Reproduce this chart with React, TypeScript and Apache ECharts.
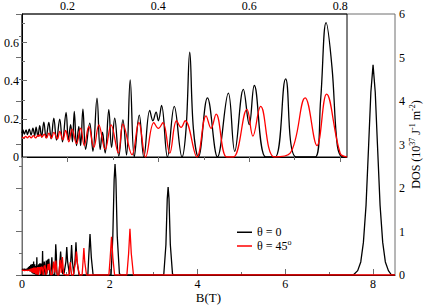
import React, { useEffect, useRef } from "react";
import * as echarts from "echarts";

// ---- data (B in T, DOS in 10^37 J^-1 m^-2) ----
const lowBlack: [number, number][] = [
  [0.0, 0.12], [0.02, 0.135], [0.04, 0.12], [0.06, 0.14], [0.08, 0.12],
];
const lowRed: [number, number][] = [
  [0.0, 0.1], [0.03, 0.11], [0.06, 0.1], [0.08, 0.105],
];

const insetBlack: [number, number][] = [
  [0.100, 0.125], [0.102, 0.142], [0.105, 0.12], [0.109, 0.142], [0.112, 0.118],
  [0.116, 0.146], [0.120, 0.115], [0.124, 0.151], [0.128, 0.112], [0.131, 0.157],
  [0.135, 0.108], [0.139, 0.164], [0.143, 0.105], [0.148, 0.183], [0.153, 0.1],
  [0.159, 0.181], [0.164, 0.095], [0.170, 0.204], [0.176, 0.088], [0.183, 0.199],
  [0.189, 0.08], [0.197, 0.234], [0.202, 0.09], [0.207, 0.17], [0.211, 0.08],
  [0.215, 0.239], [0.220, 0.06], [0.225, 0.16], [0.229, 0.06], [0.234, 0.251],
  [0.240, 0.04], [0.249, 0.178], [0.256, 0.03], [0.265, 0.309], [0.272, 0.04],
  [0.277, 0.13], [0.283, 0.02], [0.291, 0.248], [0.297, 0.05], [0.304, 0.204],
  [0.313, 0.005], [0.322, 0.195], [0.330, 0.01], [0.338, 0.405], [0.347, 0.0],
  [0.358, 0.22], [0.368, 0.0], [0.381, 0.245], [0.388, 0.19], [0.395, 0.235],
  [0.400, 0.19], [0.407, 0.27], [0.420, 0.0], [0.435, 0.265], [0.452, 0.0],
  [0.461, 0.15], [0.469, 0.55], [0.477, 0.15], [0.488, 0.0], [0.508, 0.31],
  [0.530, 0.0], [0.554, 0.335], [0.568, 0.03], [0.587, 0.355], [0.600, 0.17],
  [0.611, 0.375], [0.636, 0.0], [0.657, 0.0], [0.680, 0.41], [0.703, 0.0],
  [0.745, 0.0], [0.757, 0.3], [0.769, 0.705], [0.782, 0.47], [0.792, 0.1],
  [0.800, 0.01], [0.815, 0.0],
];

const insetRed: [number, number][] = [
  [0.100, 0.105], [0.104, 0.1], [0.108, 0.108], [0.112, 0.1], [0.116, 0.11],
  [0.120, 0.1], [0.125, 0.112], [0.130, 0.1], [0.135, 0.115], [0.137, 0.108],
  [0.140, 0.118], [0.144, 0.105], [0.149, 0.12], [0.154, 0.1], [0.159, 0.125],
  [0.165, 0.098], [0.170, 0.129], [0.178, 0.095], [0.183, 0.134], [0.190, 0.09],
  [0.196, 0.139], [0.203, 0.08], [0.210, 0.146], [0.220, 0.07], [0.229, 0.151],
  [0.237, 0.06], [0.247, 0.16], [0.258, 0.05], [0.269, 0.169], [0.283, 0.04],
  [0.296, 0.169], [0.312, 0.02], [0.322, 0.172], [0.342, 0.012], [0.357, 0.181],
  [0.372, 0.0], [0.390, 0.18], [0.400, 0.15], [0.410, 0.18], [0.425, 0.02],
  [0.440, 0.19], [0.450, 0.155], [0.459, 0.19], [0.485, 0.0], [0.505, 0.216],
  [0.516, 0.15], [0.527, 0.225], [0.550, 0.0], [0.565, 0.0], [0.595, 0.25],
  [0.608, 0.11], [0.625, 0.265], [0.655, 0.0], [0.690, 0.02], [0.723, 0.31],
  [0.749, 0.06], [0.770, 0.33], [0.800, 0.02], [0.815, 0.0],
];

const highBlack: [number, number][] = [
  [0.84, 0.0], [0.86, 0.25], [0.88, 0.54], [0.90, 0.25], [0.93, 0.02],
  [0.96, 0.05], [1.00, 0.3], [1.02, 0.64], [1.04, 0.3], [1.08, 0.02],
  [1.11, 0.3], [1.13, 0.69], [1.15, 0.3], [1.18, 0.02], [1.21, 0.35],
  [1.23, 0.75], [1.25, 0.35], [1.30, 0.0], [1.50, 0.0], [1.52, 0.4],
  [1.55, 0.94], [1.58, 0.4], [1.62, 0.0], [2.03, 0.0], [2.07, 0.9],
  [2.10, 2.2], [2.12, 2.55], [2.14, 2.2], [2.17, 0.9], [2.22, 0.03],
  [2.26, 0.0], [3.23, 0.0], [3.28, 0.7], [3.31, 1.75], [3.33, 2.02],
  [3.35, 1.75], [3.38, 0.7], [3.43, 0.02], [3.47, 0.0], [7.55, 0.0],
  [7.65, 0.1], [7.72, 0.3], [7.78, 0.75], [7.84, 1.6], [7.90, 3.0],
  [7.95, 4.2], [8.00, 4.83], [8.05, 4.2], [8.10, 3.0], [8.16, 1.6],
  [8.22, 0.75], [8.28, 0.3], [8.35, 0.1], [8.42, 0.0], [8.5, 0.0],
];

const highRed: [number, number][] = [
  [0.84, 0.0], [0.87, 0.35], [0.895, 0.05], [0.92, 0.41], [0.95, 0.02],
  [1.00, 0.0], [1.07, 0.0], [1.10, 0.3], [1.13, 0.0], [1.17, 0.0],
  [1.21, 0.25], [1.24, 0.54], [1.27, 0.2], [1.31, 0.0], [1.37, 0.0],
  [1.39, 0.3], [1.41, 0.62], [1.43, 0.3], [1.47, 0.0], [1.98, 0.0],
  [2.01, 0.4], [2.04, 0.88], [2.07, 0.4], [2.11, 0.0], [2.39, 0.0],
  [2.43, 0.5], [2.46, 1.06], [2.49, 0.5], [2.54, 0.0], [8.5, 0.0],
];

const mainBlack = [...lowBlack, ...insetBlack, ...highBlack];
const mainRed = [...lowRed, ...insetRed, ...highRed];

const mainXMajor = [0, 2, 4, 6, 8];
const mainXMinor = [1, 3, 5, 7];
const insetXMajor = [0.2, 0.4, 0.6, 0.8];
const insetXMinor = [0.3, 0.5, 0.7];
const insetYMajor = [0, 0.2, 0.4, 0.6];
const insetYMinor = [0.1, 0.3, 0.5, 0.7];

const NAME0 = "θ = 0";
const NAME45 = "θ = 45°";

const FONT = "Liberation Serif";

export default function App() {
  const ref = useRef<HTMLDivElement>(null);
  useEffect(() => {
    if (!ref.current) return;
    const chart = echarts.init(ref.current, undefined, { renderer: "svg" });
    const label = { fontFamily: FONT, fontSize: 12, color: "#000" };
    const gray = "#6e6e6e";
    chart.setOption({
      animation: false,
      backgroundColor: "#fff",
      textStyle: { fontFamily: FONT },
      grid: [
        { left: 22, top: 14, width: 373, height: 261, show: true, borderColor: gray, borderWidth: 1, backgroundColor: "transparent", containLabel: false, outerBoundsMode: "none" },
        { left: 22, top: 14, width: 325, height: 143, show: true, borderColor: "#000", borderWidth: 1, backgroundColor: "transparent", containLabel: false, outerBoundsMode: "none" },
      ],
      xAxis: [
        {
          gridIndex: 0, type: "value", min: 0, max: 8.5, position: "bottom",
          axisLine: { show: true, lineStyle: { color: "#000", width: 1 } },
          axisTick: { show: true, inside: true, length: 6, customValues: mainXMajor, lineStyle: { color: gray } },
          axisLabel: { ...label, margin: 3, customValues: mainXMajor },
          splitLine: { show: false },
          name: "B(T)", nameLocation: "middle", nameGap: 16, nameMoveOverlap: false,
          nameTextStyle: { ...label, fontSize: 13 },
        },
        {
          gridIndex: 0, type: "value", min: 0, max: 8.5, position: "bottom",
          axisLine: { show: false },
          axisTick: { show: true, inside: true, length: 3, customValues: mainXMinor, lineStyle: { color: gray } },
          axisLabel: { show: false },
          splitLine: { show: false },
        },
        {
          gridIndex: 1, type: "value", min: 0.1, max: 0.815, position: "top",
          axisLine: { show: true, lineStyle: { color: "#000", width: 1 } },
          axisTick: { show: true, inside: true, length: 5, customValues: insetXMajor, lineStyle: { color: gray } },
          axisLabel: { ...label, margin: 2, customValues: insetXMajor, formatter: (v: number) => v.toFixed(1) },
          splitLine: { show: false },
        },
        {
          gridIndex: 1, type: "value", min: 0.1, max: 0.815, position: "top",
          axisLine: { show: false },
          axisTick: { show: true, inside: true, length: 3, customValues: insetXMinor, lineStyle: { color: gray } },
          axisLabel: { show: false },
          splitLine: { show: false },
        },
      ],
      yAxis: [
        {
          gridIndex: 0, type: "value", min: 0, max: 6, interval: 1, position: "right",
          axisLine: { show: true, lineStyle: { color: gray, width: 1 } },
          axisTick: { show: true, inside: true, length: 6, lineStyle: { color: gray } },
          minorTick: { show: true, splitNumber: 2, length: 3, lineStyle: { color: gray } },
          axisLabel: { ...label, margin: 4 },
          splitLine: { show: false },
          name: "DOS (10{sup|37} J{sup|-1} m{sup|-2})",
          nameLocation: "middle", nameRotate: 90, nameGap: 13, nameMoveOverlap: false,
          nameTextStyle: {
            ...label, fontSize: 12,
            rich: {
              sup: { fontFamily: FONT, fontSize: 8, color: "#000", padding: [0, 0, 7, 0] },
            },
          },
        },
        {
          gridIndex: 1, type: "value", min: 0, max: 0.75, position: "left",
          axisLine: { show: true, lineStyle: { color: "#000", width: 1 } },
          axisTick: { show: true, inside: true, length: 5, customValues: insetYMajor, lineStyle: { color: gray } },
          axisLabel: { ...label, margin: 3, customValues: insetYMajor, formatter: (v: number) => (v === 0 ? "0" : v.toFixed(1)) },
          splitLine: { show: false },
        },
        {
          gridIndex: 1, type: "value", min: 0, max: 0.75, position: "left",
          axisLine: { show: false },
          axisTick: { show: true, inside: true, length: 3, customValues: insetYMinor, lineStyle: { color: gray } },
          axisLabel: { show: false },
          splitLine: { show: false },
        },
      ],
      legend: {
        orient: "vertical", left: 232, top: 221, itemWidth: 15, itemHeight: 1.5, itemGap: 0,
        icon: "rect",
        data: [NAME0, NAME45],
        textStyle: { ...label, lineHeight: 12.5, rich: { t: { ...label }, sup: { fontFamily: FONT, fontSize: 8, color: "#000", padding: [0, 0, 7, 0] } } },
        formatter: (n: string) => (n === NAME45 ? "{t|θ = 45}{sup|o}" : "{t|" + n + "}"),
      },
      series: [
        { name: NAME0, type: "line", xAxisIndex: 0, yAxisIndex: 0, data: mainBlack, symbol: "none", lineStyle: { color: "#000", width: 1.3 }, itemStyle: { color: "#000" } },
        { name: NAME45, type: "line", xAxisIndex: 0, yAxisIndex: 0, data: mainRed, symbol: "none", lineStyle: { color: "#f00", width: 1.3 }, itemStyle: { color: "#f00" } },
        { name: NAME0, type: "line", xAxisIndex: 2, yAxisIndex: 1, data: insetBlack, symbol: "none", smooth: 0.4, lineStyle: { color: "#000", width: 1.3 }, itemStyle: { color: "#000" } },
        { name: NAME45, type: "line", xAxisIndex: 2, yAxisIndex: 1, data: insetRed, symbol: "none", smooth: 0.4, lineStyle: { color: "#f00", width: 1.3 }, itemStyle: { color: "#f00" } },
      ],
    });
    return () => chart.dispose();
  }, []);
  return <div ref={ref} style={{ position: "absolute", left: 0, top: 0, width: 429, height: 306 }} />;
}
